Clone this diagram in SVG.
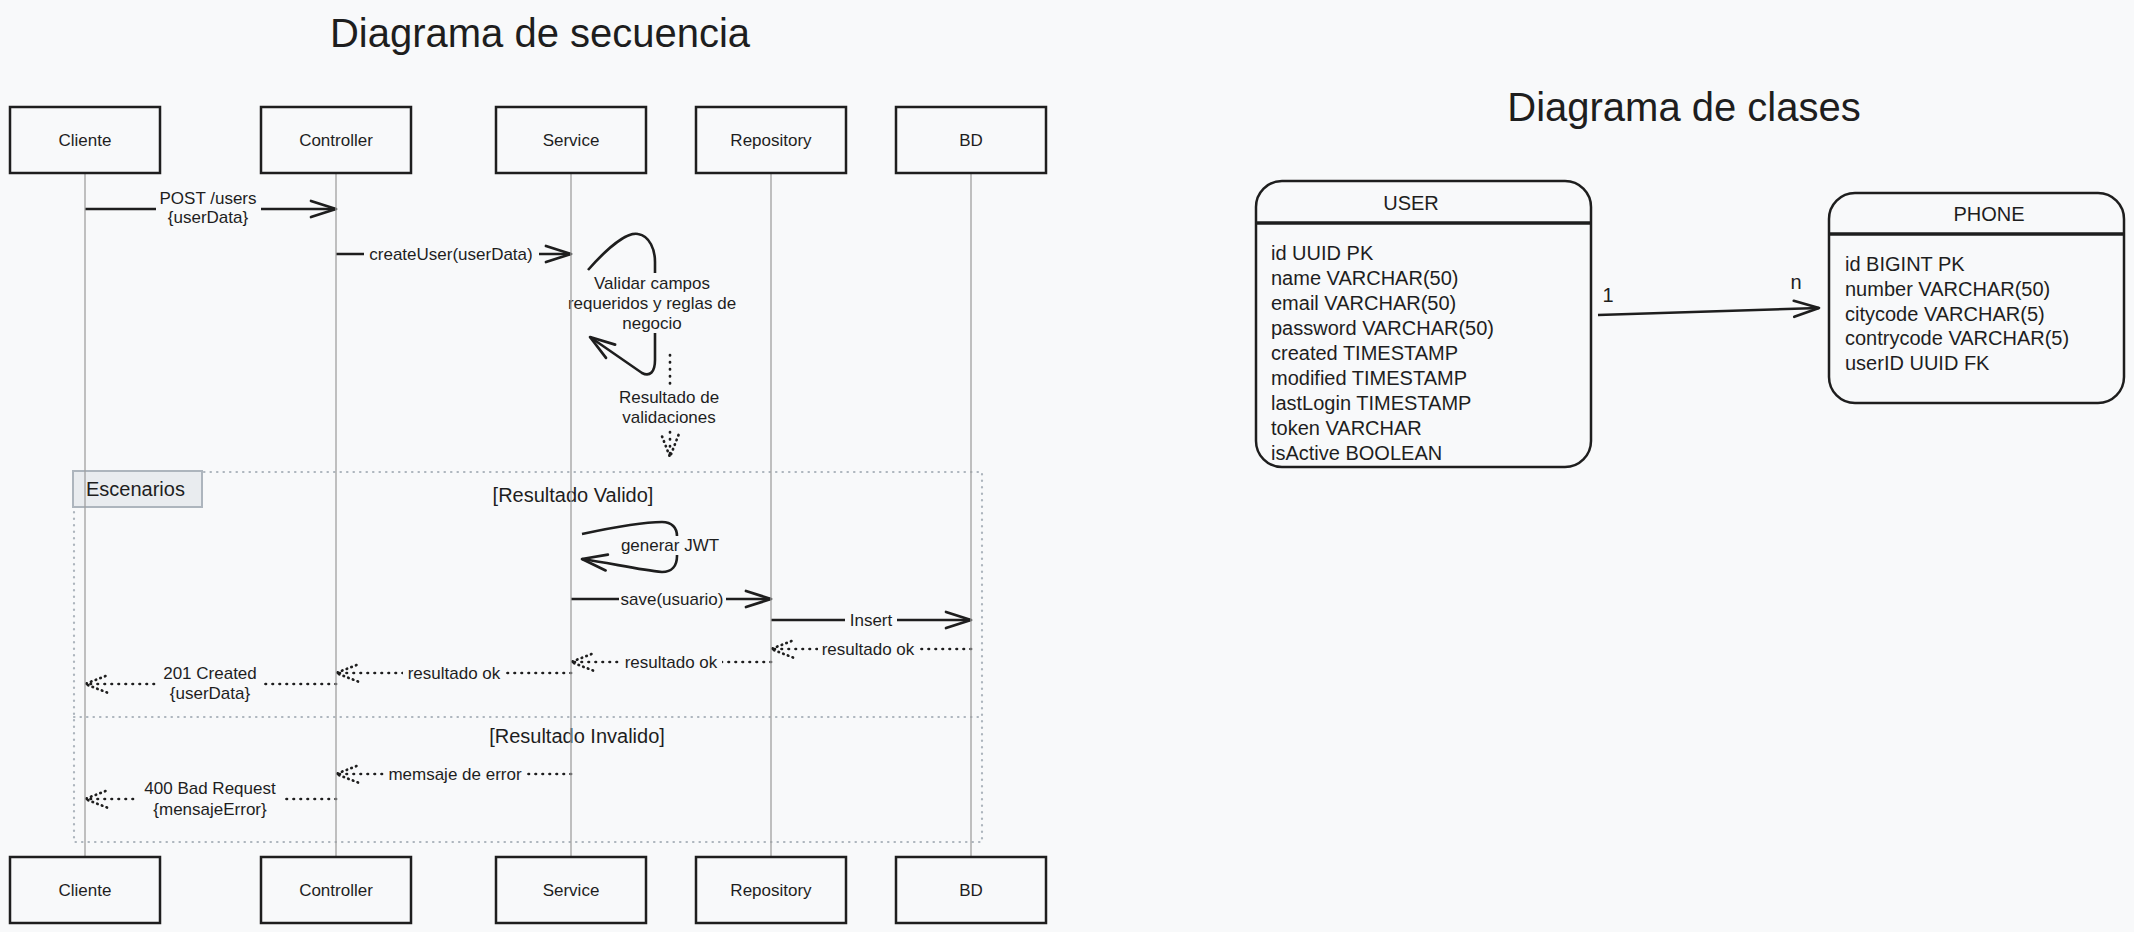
<svg xmlns="http://www.w3.org/2000/svg" width="2134" height="932" viewBox="0 0 2134 932">
<style>
.t{font-family:'Liberation Sans',Arial,sans-serif;fill:#1e1e1e;dominant-baseline:central}
.c{text-anchor:middle}
.s17{font-size:17px}
.s20{font-size:20px}
.s40{font-size:40px}
.box{fill:#f8f9fa;stroke:#1e1e1e;stroke-width:2.5}
.life{stroke:#a0a0a0;stroke-width:1.3}
.msg{fill:none;stroke:#1e1e1e;stroke-width:2.6;marker-end:url(#ah)}
.ret{fill:none;stroke:#1e1e1e;stroke-width:2.7;stroke-dasharray:0.5 6.5;stroke-linecap:round;marker-end:url(#ahd)}
.bg{fill:#f8f9fa}
.frame{fill:none;stroke:#adb5bd;stroke-width:2.2;stroke-dasharray:0.5 6;stroke-linecap:round}
.cls{fill:#f8f9fa;stroke:#1e1e1e;stroke-width:2.5}
.div{stroke:#1e1e1e;stroke-width:3.5}
</style>
<defs>
<marker id="ah" markerUnits="userSpaceOnUse" markerWidth="34" markerHeight="26" refX="28" refY="13" orient="auto" overflow="visible">
<path d="M3,5 L28,13 L3,21" fill="none" stroke="#1e1e1e" stroke-width="2.7" stroke-linecap="round" stroke-linejoin="round"/>
</marker>
<marker id="ahd" markerUnits="userSpaceOnUse" markerWidth="34" markerHeight="26" refX="27" refY="13" orient="auto" overflow="visible">
<path d="M5,4.5 L27,13 L5,21.5" fill="none" stroke="#1e1e1e" stroke-width="2.7" stroke-dasharray="0.5 4.5" stroke-linecap="round"/>
</marker>
</defs>
<rect x="0" y="0" width="2134" height="932" fill="#f8f9fa"/>

<g id="titles">
<text class="t c s40" x="540" y="33">Diagrama de secuencia</text>
<text class="t c s40" x="1684" y="107">Diagrama de clases</text>
</g>

<g id="frame-escenarios">
<rect class="frame" x="74" y="472" width="908" height="370"/>
<line class="frame" x1="74" y1="717" x2="982" y2="717"/>
<rect x="73" y="471" width="129" height="36" fill="#e9ecef" stroke="#adb5bd" stroke-width="2"/>
<text class="t s20" x="86" y="489">Escenarios</text>
<text class="t c s20" x="573" y="495">[Resultado Valido]</text>
<text class="t c s20" x="577" y="736">[Resultado Invalido]</text>
</g>

<g id="connectors">
<line class="msg" x1="85" y1="209" x2="336" y2="209"/>
<line class="msg" x1="336" y1="254" x2="571" y2="254"/>
<path class="msg" d="M588,270 C610,245 628,232 638,234 C650,236 655,250 655,262 L655,360 C655,372 650,377 642,373 L590,337"/>
<line class="ret" x1="670" y1="355" x2="670" y2="457"/>
<path class="msg" d="M582,534 C610,528 640,522 662,522 C672,522 677,528 677,536 L677,556 C677,566 672,572 662,572 C640,570 610,563 582,559"/>
<line class="msg" x1="571" y1="599" x2="771" y2="599"/>
<line class="msg" x1="771" y1="620" x2="971" y2="620"/>
<line class="ret" x1="971" y1="649" x2="771" y2="649"/>
<line class="ret" x1="771" y1="662" x2="571" y2="662"/>
<line class="ret" x1="571" y1="673" x2="336" y2="673"/>
<line class="ret" x1="336" y1="684" x2="85" y2="684"/>
<line class="ret" x1="571" y1="774" x2="336" y2="774"/>
<line class="ret" x1="336" y1="799" x2="85" y2="799"/>
<line class="msg" x1="1598" y1="315" x2="1819" y2="308"/>

<rect class="bg" x="156" y="188" width="105" height="40"/>
<rect class="bg" x="364" y="245" width="175" height="18"/>
<rect class="bg" x="566" y="273" width="174" height="60"/>
<rect class="bg" x="615" y="386" width="108" height="42"/>
<rect class="bg" x="621" y="536" width="98" height="19"/>
<rect class="bg" x="619" y="590" width="107" height="18"/>
<rect class="bg" x="845" y="611" width="52" height="18"/>
<rect class="bg" x="818" y="640" width="101" height="18"/>
<rect class="bg" x="620" y="653" width="102" height="18"/>
<rect class="bg" x="403" y="664" width="103" height="18"/>
<rect class="bg" x="158" y="663" width="104" height="40"/>
<rect class="bg" x="386" y="765" width="138" height="18"/>
<rect class="bg" x="138" y="778" width="144" height="42"/>

<text class="t c s17" x="208" y="198">POST /users</text>
<text class="t c s17" x="208" y="217">{userData}</text>
<text class="t c s17" x="451" y="254">createUser(userData)</text>
<text class="t c s17" x="652" y="283">Validar campos</text>
<text class="t c s17" x="652" y="303">requeridos y reglas de</text>
<text class="t c s17" x="652" y="323">negocio</text>
<text class="t c s17" x="669" y="397">Resultado de</text>
<text class="t c s17" x="669" y="417">validaciones</text>
<text class="t c s17" x="670" y="545">generar JWT</text>
<text class="t c s17" x="672" y="599">save(usuario)</text>
<text class="t c s17" x="871" y="620">Insert</text>
<text class="t c s17" x="868" y="649">resultado ok</text>
<text class="t c s17" x="671" y="662">resultado ok</text>
<text class="t c s17" x="454" y="673">resultado ok</text>
<text class="t c s17" x="210" y="673">201 Created</text>
<text class="t c s17" x="210" y="693">{userData}</text>
<text class="t c s17" x="455" y="774">memsaje de error</text>
<text class="t c s17" x="210" y="788">400 Bad Request</text>
<text class="t c s17" x="210" y="809">{mensajeError}</text>
<text class="t c s20" x="1608" y="295">1</text>
<text class="t c s20" x="1796" y="282">n</text>
</g>

<g id="participant-cliente">
<line class="life" x1="85" y1="173" x2="85" y2="857"/>
<rect class="box" x="10" y="107" width="150" height="66"/>
<text class="t c s17" x="85" y="140">Cliente</text>
<rect class="box" x="10" y="857" width="150" height="66"/>
<text class="t c s17" x="85" y="890">Cliente</text>
</g>
<g id="participant-controller">
<line class="life" x1="336" y1="173" x2="336" y2="857"/>
<rect class="box" x="261" y="107" width="150" height="66"/>
<text class="t c s17" x="336" y="140">Controller</text>
<rect class="box" x="261" y="857" width="150" height="66"/>
<text class="t c s17" x="336" y="890">Controller</text>
</g>
<g id="participant-service">
<line class="life" x1="571" y1="173" x2="571" y2="857"/>
<rect class="box" x="496" y="107" width="150" height="66"/>
<text class="t c s17" x="571" y="140">Service</text>
<rect class="box" x="496" y="857" width="150" height="66"/>
<text class="t c s17" x="571" y="890">Service</text>
</g>
<g id="participant-repository">
<line class="life" x1="771" y1="173" x2="771" y2="857"/>
<rect class="box" x="696" y="107" width="150" height="66"/>
<text class="t c s17" x="771" y="140">Repository</text>
<rect class="box" x="696" y="857" width="150" height="66"/>
<text class="t c s17" x="771" y="890">Repository</text>
</g>
<g id="participant-bd">
<line class="life" x1="971" y1="173" x2="971" y2="857"/>
<rect class="box" x="896" y="107" width="150" height="66"/>
<text class="t c s17" x="971" y="140">BD</text>
<rect class="box" x="896" y="857" width="150" height="66"/>
<text class="t c s17" x="971" y="890">BD</text>
</g>

<g id="class-user">
<rect class="cls" x="1256" y="181" width="335" height="286" rx="26"/>
<line class="div" x1="1257" y1="223" x2="1590" y2="223"/>
<text class="t c s20" x="1411" y="203">USER</text>
<text class="t s20" x="1271" y="253">id UUID PK</text>
<text class="t s20" x="1271" y="278">name VARCHAR(50)</text>
<text class="t s20" x="1271" y="303">email VARCHAR(50)</text>
<text class="t s20" x="1271" y="328">password VARCHAR(50)</text>
<text class="t s20" x="1271" y="353">created TIMESTAMP</text>
<text class="t s20" x="1271" y="378">modified TIMESTAMP</text>
<text class="t s20" x="1271" y="403">lastLogin TIMESTAMP</text>
<text class="t s20" x="1271" y="428">token VARCHAR</text>
<text class="t s20" x="1271" y="453">isActive BOOLEAN</text>
</g>
<g id="class-phone">
<rect class="cls" x="1829" y="193" width="295" height="210" rx="26"/>
<line class="div" x1="1830" y1="234" x2="2123" y2="234"/>
<text class="t c s20" x="1989" y="214">PHONE</text>
<text class="t s20" x="1845" y="264">id BIGINT PK</text>
<text class="t s20" x="1845" y="289">number VARCHAR(50)</text>
<text class="t s20" x="1845" y="314">citycode VARCHAR(5)</text>
<text class="t s20" x="1845" y="338">contrycode VARCHAR(5)</text>
<text class="t s20" x="1845" y="363">userID UUID FK</text>
</g>
</svg>
